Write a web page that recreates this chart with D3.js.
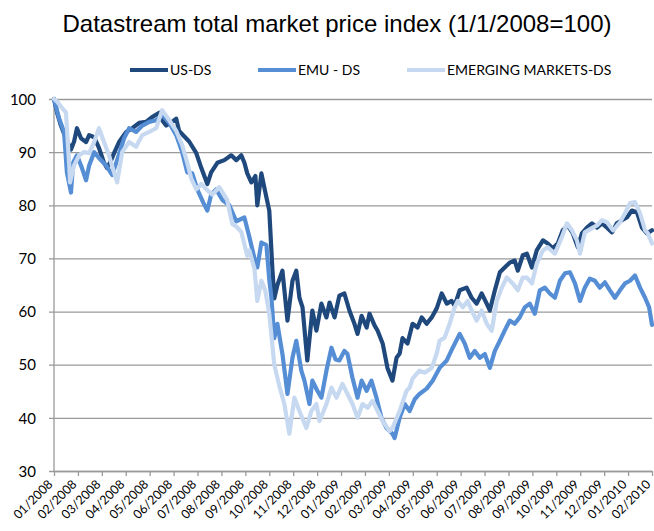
<!DOCTYPE html>
<html><head><meta charset="utf-8">
<script src="https://cdn.jsdelivr.net/npm/d3@7"></script>
<style>
body{margin:0;background:#fff;}
svg{display:block;}
</style></head>
<body>
<svg id="c" width="654" height="531"></svg>
<script>
// ---- data (x = months since 1 Jan 2008, y = index, 1/1/2008 = 100) ----
const monthLabels = ["01/2008","02/2008","03/2008","04/2008","05/2008","06/2008","07/2008","08/2008","09/2008","10/2008","11/2008","12/2008","01/2009","02/2009","03/2009","04/2009","05/2009","06/2009","07/2009","08/2009","09/2009","10/2009","11/2009","12/2009","01/2010","02/2010"];
const yTicks = [30,40,50,60,70,80,90,100];
const seriesNames = ["US-DS","EMU - DS","EMERGING MARKETS-DS"];

const usT = [0,0.13,0.29,0.5,0.71,0.84,0.96,1.13,1.34,1.47,1.68,1.88,2.09,2.22,2.39,2.51,2.72,3.02,3.27,3.56,3.85,4.1,4.4,4.52,4.69,4.94,5.11,5.23,5.44,5.65,5.95,6.16,6.41,6.57,6.83,7.12,7.41,7.62,7.83,7.96,8.08,8.25,8.42,8.5,8.67,8.88,9,9.13,9.21,9.34,9.55,9.76,9.97,10.13,10.26,10.39,10.59,10.8,10.97,11.18,11.39,11.52,11.73,11.93,12.14,12.35,12.56,12.69,12.86,13.07,13.19,13.4,13.53,13.74,13.94,14.15,14.32,14.45,14.57,14.78,14.99,15.2,15.37,15.58,15.79,16,16.21,16.42,16.62,16.75,16.96,17.25,17.46,17.67,17.88,18.09,18.22,18.43,18.64,18.84,19.05,19.26,19.39,19.6,19.77,19.98,20.18,20.44,20.64,20.85,21.06,21.27,21.48,21.69,21.9,22.07,22.28,22.49,22.7,22.91,23.12,23.33,23.53,23.74,23.95,24.16,24.37,24.58,24.79,25];
const usV = [100,97.4,95,92.5,90.5,92,94.5,92.6,91.9,93.2,92.8,90.8,88,87,88.5,89.8,91.9,93.8,94.5,95.5,95.7,96.6,97.4,96,95,95.7,96.3,94,93,92,89.8,87,84,86.2,88,88.5,89.4,88.5,89.4,88,86,84.3,85.5,80,86,81.5,79,68,62.5,65,67.7,58.3,65.8,67.7,62.6,60.8,50.8,60.2,56.4,61.5,58.9,61.7,58.9,63,63.4,60.2,57.7,55.8,59.2,57,59.6,57.4,56.4,54,49.4,47,51.3,52.1,55,54,57.7,57,58.9,57.7,58.9,60.6,63.4,61.5,62,61.1,64,64.5,62.6,61.5,63.4,61.5,60.2,64,67.4,68.3,69.2,69.6,67.7,70.6,70.9,68.3,71.5,73.4,72.8,71.9,72.8,75.3,76.2,74.7,72.1,74.7,75.8,76.6,75.8,76.6,75.8,74.9,76.6,77.2,77.7,79,78.7,75.8,74.7,75.3];

const emuT = [0,0.21,0.42,0.54,0.71,0.8,0.96,1.17,1.34,1.47,1.68,1.88,2.18,2.43,2.64,2.93,3.14,3.43,3.69,3.98,4.27,4.52,4.82,5.11,5.36,5.57,5.78,5.99,6.24,6.41,6.57,6.78,7.04,7.33,7.62,7.96,8.17,8.38,8.5,8.67,8.88,9,9.09,9.21,9.34,9.55,9.76,9.97,10.13,10.34,10.47,10.68,10.8,11.01,11.18,11.39,11.6,11.77,11.93,12.14,12.27,12.48,12.69,12.86,13.07,13.27,13.48,13.69,13.9,14.15,14.24,14.45,14.66,14.87,15.08,15.28,15.58,15.83,16.12,16.42,16.67,16.96,17.17,17.38,17.59,17.8,18.01,18.22,18.43,18.64,18.84,19.05,19.26,19.47,19.68,19.89,20.1,20.31,20.52,20.73,20.94,21.15,21.36,21.57,21.78,21.99,22.19,22.4,22.61,22.82,23.03,23.24,23.45,23.66,23.87,24.08,24.29,24.5,24.71,24.88,25];
const emuV = [100,96.4,93.8,86.2,82.4,88,89.4,87,84.7,87.5,90,88.9,87.5,85.7,88.5,92.6,94.5,93.8,95,95.7,96,97,95.5,93.2,90,86.2,86,83,80.5,79,82,83,81,80,77,77.7,74,70,68.3,73,72.5,66,62.6,55,57.7,52,44.5,51.3,54.5,48.9,47,42.6,47,45.1,43.8,48.9,53.2,51,50.8,52.6,52,47.5,43.8,47,45.1,47,43.8,40,38.1,37,36.2,40,42.6,41.3,43.5,44.5,45.5,47,49.4,50.8,53.2,55.8,54,51.3,52.6,51.3,52,49.4,52.6,54.5,56.4,58.3,57.7,58.9,60.8,61.5,59.6,64,64.5,63.4,62.6,65.8,67.2,67.4,65.3,62,64.5,66.2,65.8,64.5,65.5,64,62.6,64,65.3,65.8,66.8,64.5,62.6,60.8,57.5];

const emT = [0,0.13,0.34,0.5,0.63,0.67,0.84,1.05,1.26,1.47,1.68,1.88,2.09,2.3,2.51,2.64,2.85,3.14,3.43,3.69,3.98,4.27,4.52,4.82,5.11,5.36,5.57,5.74,5.95,6.16,6.37,6.62,6.91,7.24,7.45,7.62,7.83,8.08,8.17,8.38,8.5,8.67,8.83,9,9.21,9.42,9.63,9.84,10.05,10.26,10.55,10.76,10.97,11.1,11.39,11.6,11.81,12.06,12.27,12.48,12.69,12.9,13.11,13.32,13.53,13.74,14.03,14.15,14.45,14.74,14.87,14.99,15.28,15.49,15.79,16,16.12,16.33,16.54,16.75,16.88,17.09,17.29,17.46,17.67,17.88,18.09,18.3,18.51,18.72,18.93,19.18,19.39,19.6,19.77,19.98,20.18,20.44,20.64,20.94,21.23,21.44,21.65,21.86,21.99,22.19,22.49,22.7,22.91,23.12,23.37,23.66,23.87,24.08,24.29,24.5,24.71,24.83,25];
const emV = [100,99.5,98.3,97.5,88,84.3,87.5,89.4,90,89.8,91.9,94.5,91.9,89.4,86.2,84.3,90,91.9,91,93.2,93.8,94.5,97.9,96,94,91.3,88,85,83,84,83,82,83.4,81,76.5,76,75,70.5,71.5,68,62,65.8,64,59.6,50,46,42.6,37,43.8,41.3,38.1,41.3,42.6,39.4,42.6,45.7,43.8,46.4,44.5,42.6,40,42.6,41.9,43.2,41.3,39.4,37.5,38.1,41.3,45.1,45.7,47.4,48.9,48.5,49.4,52.1,54.5,55.1,57.7,60.8,62,60.8,62,60.2,58.3,60.2,57.7,56.4,62,64.5,66.4,65.3,64,66.4,66.4,65.3,69,71.5,72.1,70.9,74,76.6,75.3,73.4,70.9,74.9,75.7,76.2,77.2,76.8,75.3,76.8,78.5,80.4,80.6,78.5,75.3,74.7,72.8];

const colors = ["#1F497D","#558ED5","#C6D9F1"];

// ---- chart ----
const svg = d3.select("#c");
const m = {left:54, right:652, top:99, bottom:471};
const x = d3.scaleLinear().domain([0, monthLabels.length-1]).range([m.left, m.right]);
const y = d3.scaleLinear().domain([30,100]).range([m.bottom, m.top]);

const labelFont = "Lato,'Open Sans',sans-serif";

svg.append("text").attr("x",337).attr("y",32).attr("text-anchor","middle")
  .attr("font-family","'Liberation Sans',Arial,sans-serif").attr("font-size",24).attr("fill","#000")
  .text("Datastream total market price index (1/1/2008=100)");

// gridlines + y axis
const yAxis = d3.axisLeft(y).tickValues(yTicks).tickSize(m.right - m.left + 5).tickPadding(8);
const gy = svg.append("g").attr("transform",`translate(${m.right},0)`).call(yAxis);
gy.select(".domain").remove();
gy.selectAll(".tick line").attr("stroke","#9a9a9a").attr("stroke-width",1.3);
gy.selectAll(".tick text").attr("font-family",labelFont).attr("font-size",15).attr("fill","#000")
  .attr("x",-(m.right-m.left)-18).attr("dy","0.35em");

svg.append("line").attr("x1",m.left).attr("x2",m.left).attr("y1",m.top).attr("y2",m.bottom)
  .attr("stroke","#9a9a9a").attr("stroke-width",1.3);

// x axis
const xAxis = d3.axisBottom(x).tickValues(d3.range(monthLabels.length)).tickFormat(i => monthLabels[i]).tickSize(5).tickSizeOuter(0);
const gx = svg.append("g").attr("transform",`translate(0,${m.bottom})`).call(xAxis);
gx.select(".domain").attr("stroke","#9a9a9a").attr("stroke-width",1.3);
gx.selectAll(".tick line").attr("stroke","#9a9a9a").attr("stroke-width",1.3);
gx.selectAll(".tick text").attr("font-family",labelFont).attr("font-size",12.5).attr("fill","#000")
  .attr("text-anchor","end").attr("dy",0).attr("y",0)
  .attr("transform","translate(-1,14) rotate(-45)");

// lines
const line = d3.line().x(d => x(d[0])).y(d => y(d[1]));
const series = [
  d3.zip(usT, usV),
  d3.zip(emuT, emuV),
  d3.zip(emT, emV)
];
series.forEach((s,i) => {
  svg.append("path").datum(s).attr("d",line).attr("fill","none")
    .attr("stroke",colors[i]).attr("stroke-width",4.2).attr("stroke-linejoin","round").attr("stroke-linecap","round");
});

// legend
const legX = [130, 258, 407];
seriesNames.forEach((n,i) => {
  const g = svg.append("g").attr("transform",`translate(${legX[i]},70)`);
  g.append("line").attr("x1",0).attr("x2",38).attr("stroke",colors[i]).attr("stroke-width",4);
  g.append("text").attr("x",40).attr("y",5).attr("font-family",labelFont).attr("font-size",14).attr("fill","#000").text(n);
});
</script>
</body></html>
